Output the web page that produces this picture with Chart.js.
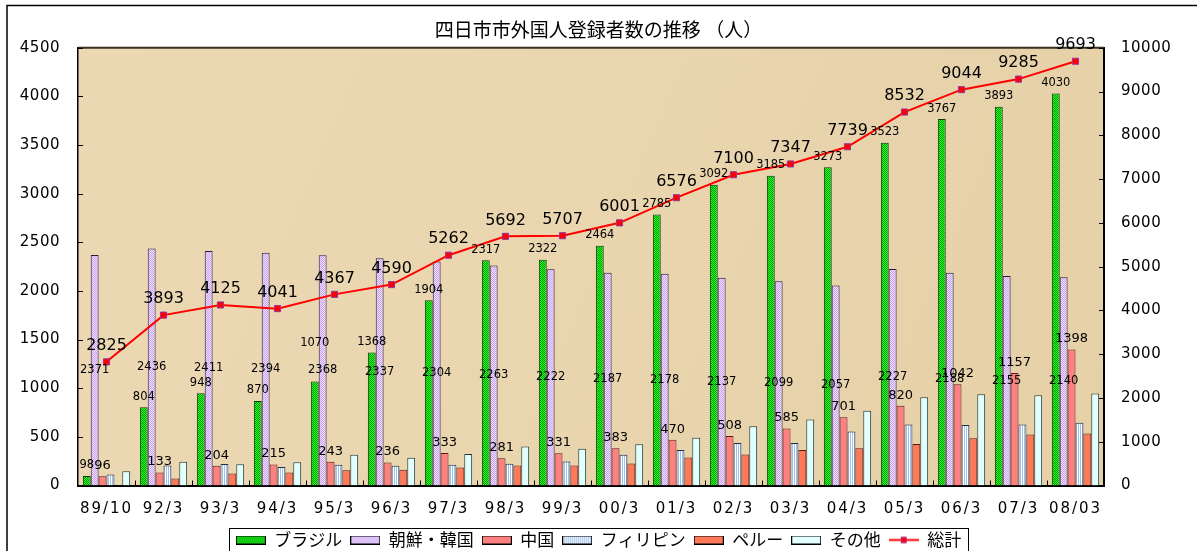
<!DOCTYPE html>
<html><head><meta charset="utf-8">
<script src="https://cdn.jsdelivr.net/npm/chart.js@4.4.1/dist/chart.umd.min.js"></script>
<style>html,body{margin:0;padding:0;background:#fff;}canvas{display:block;}</style>
</head><body>
<canvas id="c" width="1197" height="551" style="width:1197px;height:551px"></canvas>
<script>
const chartTitle = '四日市市外国人登録者数の推移 （人）';
const categories = ['89/10','92/3','93/3','94/3','95/3','96/3','97/3','98/3','99/3','00/3','01/3','02/3','03/3','04/3','05/3','06/3','07/3','08/03'];
const seriesNames = ['ブラジル','朝鮮・韓国','中国','フィリピン','ペルー','その他','総計'];
const brazil = [98,804,948,870,1070,1368,1904,2317,2322,2464,2785,3092,3185,3273,3523,3767,3893,4030];
const korea = [2371,2436,2411,2394,2368,2337,2304,2263,2222,2187,2178,2137,2099,2057,2227,2188,2155,2140];
const china = [96,133,204,215,243,236,333,281,331,383,470,508,585,701,820,1042,1157,1398];
const philippines = [113,205,220,189,213,203,213,223,247,316,364,436,436,556,628,621,628,645];
const peru = [null,72,124,134,158,161,185,206,206,227,288,319,364,384,426,487,525,535];
const others = [147,243,218,239,315,285,323,402,379,424,491,608,678,768,908,939,927,945];
const totals = [2825,3893,4125,4041,4367,4590,5262,5692,5707,6001,6576,7100,7347,7739,8532,9044,9285,9693];
const leftTicks = [0,500,1000,1500,2000,2500,3000,3500,4000,4500];
const rightTicks = [0,1000,2000,3000,4000,5000,6000,7000,8000,9000,10000];

const canvas = document.getElementById('c');
const mainCtx = canvas.getContext('2d');

function tile(w, h, draw) {
  const c = document.createElement('canvas'); c.width = w; c.height = h;
  draw(c.getContext('2d')); return c;
}
function checker(a, b) {
  return tile(2, 2, g => { g.fillStyle = a; g.fillRect(0,0,2,2); g.fillStyle = b; g.fillRect(0,0,1,1); g.fillRect(1,1,1,1); });
}
const tiles = [
  checker('#22ff22', '#009a00'),
  checker('#f0e0ff', '#c8a2f0'),
  tile(2, 2, g => { g.fillStyle = '#ff8080'; g.fillRect(0,0,2,2); }),
  tile(2, 2, g => { g.fillStyle = '#ffffff'; g.fillRect(0,0,2,2); g.fillStyle = '#9ec0ec'; g.fillRect(0,0,1,2); }),
  tile(2, 2, g => { g.fillStyle = '#ff7858'; g.fillRect(0,0,2,2); }),
  tile(2, 2, g => { g.fillStyle = '#e2ffff'; g.fillRect(0,0,2,2); })
];
const fills = tiles.map(t => mainCtx.createPattern(t, 'repeat'));
const borders = ['#0a3a0a', '#2a1a3a', '#5a1a1a', '#1e2e4a', '#5a1a10', '#1e3a3a'];

const legendImgs = fills.map((p, i) => tile(30, 9, g => {
  g.fillStyle = g.createPattern(tiles[i], 'repeat'); g.fillRect(0, 0, 30, 9);
  g.strokeStyle = '#000'; g.lineWidth = 1; g.strokeRect(0.5, 0.5, 29, 8);
}));
legendImgs.push(tile(30, 9, g => {
  g.strokeStyle = '#ff0000'; g.lineWidth = 2; g.beginPath(); g.moveTo(0, 4.5); g.lineTo(30, 4.5); g.stroke();
  g.fillStyle = '#ff0000'; g.fillRect(12, 1.5, 6, 6);
  g.strokeStyle = '#993399'; g.lineWidth = 1; g.strokeRect(12.5, 2, 5, 5);
}));

const numFont = '"DejaVu Sans", "Liberation Sans", sans-serif';
const barSeries = [brazil, korea, china, philippines, peru, others];
const labelModes = [
  {mode: 'end', size: 11.5, off: 10.5},
  {mode: 'center', size: 11.5, off: 0},
  {mode: 'end', size: 13, off: 10.5},
  null, null, null
];

const datasets = barSeries.map((d, i) => ({
  type: 'bar', label: seriesNames[i], data: d, yAxisID: 'y',
  backgroundColor: fills[i], borderColor: borders[i], borderWidth: 1,
  categoryPercentage: 0.83, barPercentage: 1.0, dl: labelModes[i]
}));
datasets.push({
  type: 'line', label: seriesNames[6], data: totals, yAxisID: 'y2', order: -1,
  borderColor: '#ff0000', borderWidth: 2, tension: 0, fill: false,
  pointStyle: 'rect', pointRadius: 4.3, pointBackgroundColor: '#ff0000',
  pointBorderColor: '#993399', pointBorderWidth: 1,
  dl: {mode: 'point', size: 16, off: 16}
});

function spaced(scale, px) {
  if (!scale || scale._spacedPatch) return;
  const orig = scale.drawLabels;
  scale.drawLabels = function (area) {
    const c = this.ctx; c.save(); c.letterSpacing = px; orig.call(this, area); c.restore();
  };
  scale._spacedPatch = true;
}

const framePlugin = {
  id: 'frame',
  afterLayout(chart) {
    spaced(chart.scales.x, '2px');
    spaced(chart.scales.y, '0.5px');
    spaced(chart.scales.y2, '0.5px');
  },
  beforeDraw(chart) {
    const {ctx, chartArea: a} = chart;
    ctx.save();
    ctx.fillStyle = '#ffffff'; ctx.fillRect(0, 0, chart.width, chart.height);
    const gr = ctx.createLinearGradient(a.left, a.top, a.right, a.bottom);
    gr.addColorStop(0, '#ecd9b4'); gr.addColorStop(0.5, '#e9d5ae'); gr.addColorStop(1, '#e5d0a7');
    ctx.fillStyle = gr; ctx.fillRect(a.left, a.top, a.right - a.left, a.bottom - a.top);
    ctx.strokeStyle = '#000'; ctx.lineWidth = 1.5;
    ctx.beginPath(); ctx.moveTo(7, chart.height + 5); ctx.lineTo(7, 5.5); ctx.lineTo(chart.width + 5, 5.5); ctx.stroke();
    ctx.restore();
  },
  afterDatasetsDraw(chart) {
    const {ctx, chartArea: a} = chart;
    ctx.save();
    ctx.strokeStyle = '#3a3026'; ctx.lineWidth = 2;
    ctx.beginPath(); ctx.moveTo(a.left, a.top); ctx.lineTo(a.right, a.top); ctx.stroke();
    ctx.strokeStyle = '#000'; ctx.lineWidth = 1;
    const ys = chart.scales.y, y2 = chart.scales.y2;
    ctx.beginPath();
    leftTicks.forEach(v => { const p = Math.round(ys.getPixelForValue(v)) + 0.5; ctx.moveTo(a.left, p); ctx.lineTo(a.left + 5, p); });
    rightTicks.forEach(v => { const p = Math.round(y2.getPixelForValue(v)) + 0.5; ctx.moveTo(a.right - 5, p); ctx.lineTo(a.right, p); });
    const n = categories.length, w = (a.right - a.left) / n;
    for (let i = 1; i < n; i++) { const x = Math.round(a.left + i * w) + 0.5; ctx.moveTo(x, a.bottom); ctx.lineTo(x, a.bottom - 5); }
    ctx.stroke();
    ctx.restore();
  },
  afterDraw(chart) {
    const {ctx} = chart;
    ctx.save();
    // label positions
    const pos = chart.data.datasets.map((ds, di) => {
      if (!ds.dl) return null;
      const meta = chart.getDatasetMeta(di);
      return meta.data.map((el, j) => {
        const v = ds.data[j]; if (v === null || v === undefined) return null;
        const y = ds.dl.mode === 'center' ? (el.y + el.base) / 2 : el.y - ds.dl.off;
        return {x: el.x, y, text: String(v)};
      });
    });
    // keep first-series labels clear of the centred second-series labels
    if (pos[0] && pos[1]) {
      pos[0].forEach((p, j) => {
        const q = pos[1][j];
        if (p && q && Math.abs(p.y - q.y) < 14) p.y = q.y - 27;
      });
    }
    chart.data.datasets.forEach((ds, di) => {
      if (!pos[di]) return;
      ctx.font = ds.dl.size + 'px ' + numFont;
      ctx.fillStyle = '#000'; ctx.textAlign = 'center'; ctx.textBaseline = 'middle';
      pos[di].forEach(p => { if (p) ctx.fillText(p.text, p.x, p.y); });
    });
    // legend frame
    const lg = chart.legend;
    if (lg && lg.legendHitBoxes && lg.legendHitBoxes.length) {
      const hb = lg.legendHitBoxes;
      let l = Infinity, r = -Infinity;
      hb.forEach(h => { l = Math.min(l, h.left); r = Math.max(r, h.left + h.width); });
      const cy = hb[0].top + hb[0].height / 2;
      ctx.strokeStyle = '#000'; ctx.lineWidth = 1;
      ctx.strokeRect(Math.round(l - 7) + 0.5, Math.round(cy - 12.5) + 0.5, Math.round(r - l + 14), 40);
    }
    ctx.restore();
  }
};

new Chart(canvas, {
  data: { labels: categories, datasets },
  plugins: [framePlugin],
  options: {
    responsive: false, animation: false, devicePixelRatio: 1,
    layout: { padding: { top: 0, left: 0, right: 0, bottom: -7.5 } },
    plugins: {
      tooltip: { enabled: false },
      title: {
        display: true, text: chartTitle, color: '#000',
        font: { family: '"Noto Sans CJK JP", sans-serif', size: 19, weight: 'normal', lineHeight: 1.2 },
        padding: { top: 18, bottom: 7 }
      },
      legend: {
        position: 'bottom',
        labels: {
          usePointStyle: true, pointStyleWidth: 30, boxHeight: 9, padding: 8, color: '#000',
          font: { family: '"Noto Sans CJK JP", sans-serif', size: 17 },
          generateLabels: (chart) => chart.data.datasets.map((ds, i) => ({
            text: ds.label, pointStyle: legendImgs[i], datasetIndex: i, hidden: false,
            fillStyle: 'transparent', strokeStyle: 'transparent', lineWidth: 0, fontColor: '#000'
          }))
        }
      }
    },
    scales: {
      x: {
        type: 'category', offset: true,
        grid: { display: false, drawTicks: false },
        border: { display: true, color: '#000', width: 2 },
        ticks: { color: '#000', padding: 15, maxRotation: 0, autoSkip: false, font: { family: numFont, size: 15 } },
        afterFit: s => { s.height = 38; }
      },
      y: {
        position: 'left', min: 0, max: 4500,
        afterBuildTicks: s => { s.ticks = leftTicks.map(v => ({ value: v })); },
        grid: { display: false, drawTicks: false },
        border: { display: true, color: '#000', width: 1.5 },
        ticks: { color: '#000', padding: 18, font: { family: numFont, size: 15 }, callback: v => String(v) },
        afterFit: s => { s.width = 78; }
      },
      y2: {
        position: 'right', min: 0, max: 10000,
        afterBuildTicks: s => { s.ticks = rightTicks.map(v => ({ value: v })); },
        grid: { display: false, drawTicks: false },
        border: { display: true, color: '#000', width: 2 },
        ticks: { color: '#000', padding: 17, font: { family: numFont, size: 15 }, callback: v => String(v) },
        afterFit: s => { s.width = 93; }
      }
    }
  }
});
</script>
</body></html>
